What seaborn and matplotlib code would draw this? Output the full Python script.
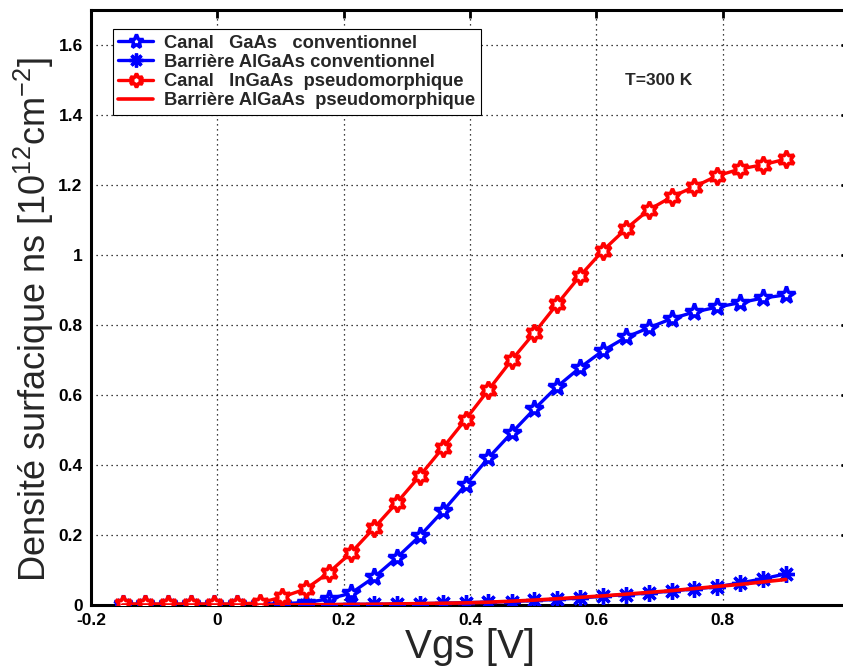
import matplotlib
matplotlib.use('Agg')
import matplotlib.pyplot as plt
import pandas as pd
import seaborn as sns

# ---------------- data ----------------
vgs = [-0.150, -0.114, -0.078, -0.041, -0.005, 0.031, 0.067, 0.103, 0.140, 0.176,
       0.212, 0.248, 0.284, 0.321, 0.357, 0.393, 0.429, 0.466, 0.502, 0.538,
       0.574, 0.610, 0.647, 0.683, 0.719, 0.755, 0.791, 0.828, 0.864, 0.900]

canal_gaas = [0.002, 0.002, 0.002, 0.002, 0.002, 0.002, 0.002, 0.004, 0.007, 0.017,
              0.034, 0.079, 0.135, 0.198, 0.268, 0.343, 0.420, 0.492, 0.560, 0.624,
              0.678, 0.726, 0.765, 0.792, 0.818, 0.837, 0.851, 0.864, 0.877, 0.886]

barriere_conv = [0.000, 0.000, 0.000, 0.000, 0.000, 0.000, 0.000, 0.000, 0.001, 0.001,
                 0.002, 0.002, 0.003, 0.004, 0.005, 0.007, 0.008, 0.010, 0.013, 0.016,
                 0.020, 0.025, 0.030, 0.034, 0.040, 0.046, 0.052, 0.063, 0.075, 0.089]

canal_ingaas = [0.003, 0.003, 0.003, 0.003, 0.003, 0.003, 0.006, 0.023, 0.046, 0.092,
                0.150, 0.220, 0.292, 0.370, 0.449, 0.530, 0.614, 0.700, 0.778, 0.860,
                0.940, 1.012, 1.075, 1.129, 1.166, 1.195, 1.226, 1.246, 1.258, 1.274]

barriere_pseudo = [0.000, 0.000, 0.000, 0.000, 0.000, 0.000, 0.000, 0.000, 0.001, 0.001,
                   0.0015, 0.002, 0.003, 0.004, 0.005, 0.006, 0.008, 0.011, 0.014, 0.018,
                   0.022, 0.026, 0.031, 0.036, 0.041, 0.047, 0.053, 0.059, 0.066, 0.073]

series_labels = ['Canal   GaAs   conventionnel',
                 'Barrière AlGaAs conventionnel',
                 'Canal   InGaAs  pseudomorphique',
                 'Barrière AlGaAs  pseudomorphique']

x_ticks = [-0.2, 0.0, 0.2, 0.4, 0.6, 0.8]
x_tick_labels = ['-0.2', '0', '0.2', '0.4', '0.6', '0.8']
y_ticks = [0.0, 0.2, 0.4, 0.6, 0.8, 1.0, 1.2, 1.4, 1.6]
y_tick_labels = ['0', '0.2', '0.4', '0.6', '0.8', '1', '1.2', '1.4', '1.6']

x_label = 'Vgs [V]'
y_label = 'Densité surfacique ns [10$^{12}$cm$^{-2}$]'
annotation = 'T=300 K'

# ---------------- style ----------------
sns.set_style('white')
plt.rcParams['font.family'] = ['Liberation Sans', 'DejaVu Sans']
plt.rcParams['mathtext.default'] = 'regular'

W, H = 843, 666
fig = plt.figure(figsize=(W / 100, H / 100), dpi=100)
ax = fig.add_axes([91 / W, 61 / H, 758 / W, 595 / H])

df = pd.DataFrame({'Vgs': vgs,
                   'canal_gaas': canal_gaas,
                   'barriere_conv': barriere_conv,
                   'canal_ingaas': canal_ingaas,
                   'barriere_pseudo': barriere_pseudo})

blue = '#0000ff'
red = '#ff0000'

sns.lineplot(data=df, x='Vgs', y='canal_gaas', ax=ax, color=blue, linewidth=2.4,
             marker='*', markersize=13, markerfacecolor='white',
             markeredgecolor=blue, markeredgewidth=2.5, label=series_labels[0],
             sort=False, estimator=None, zorder=3)
sns.lineplot(data=df, x='Vgs', y='barriere_conv', ax=ax, color=blue, linewidth=2.4,
             marker=(8, 2, 0), markersize=12, markeredgecolor=blue,
             markeredgewidth=2.4, label=series_labels[1],
             sort=False, estimator=None, zorder=3)
sns.lineplot(data=df, x='Vgs', y='canal_ingaas', ax=ax, color=red, linewidth=2.4,
             marker=(6, 1, 0), markersize=12.5, markerfacecolor='white',
             markeredgecolor=red, markeredgewidth=2.6, label=series_labels[2],
             sort=False, estimator=None, zorder=3)
sns.lineplot(data=df, x='Vgs', y='barriere_pseudo', ax=ax, color=red, linewidth=2.6,
             label=series_labels[3], sort=False, estimator=None, zorder=4)

ax.set_xlim(-0.2, 1.0)
ax.set_ylim(0, 1.7)
ax.set_xticks(x_ticks, labels=x_tick_labels, fontweight='bold', fontsize=12.5)
ax.set_yticks(y_ticks, labels=y_tick_labels, fontweight='bold', fontsize=12.5)
ax.tick_params(direction='in', length=6, width=2, top=True, right=True,
               colors='black', pad=6)

ax.grid(True, color='black', linestyle=(0, (1, 3)), linewidth=0.9)
ax.set_axisbelow(True)
for sp in ax.spines.values():
    sp.set_color('black')
    sp.set_linewidth(2.2)
    sp.set_visible(True)

ax.set_xlabel(x_label, fontsize=29, labelpad=0)
ax.set_ylabel(y_label, fontsize=26, labelpad=1)
ax.yaxis.set_label_coords(-0.046, 0.48)

ax.text(0.749, 0.882, annotation, transform=ax.transAxes, ha='center', va='center',
        fontsize=12.5, fontweight='bold')

handles, labels = ax.get_legend_handles_labels()
leg = ax.legend(handles, labels, loc='upper left', bbox_to_anchor=(0.029, 0.968),
                borderaxespad=0, frameon=True, fancybox=False, framealpha=1,
                edgecolor='black', prop={'weight': 'bold', 'size': 13.2},
                handlelength=1.9, handletextpad=0.6, labelspacing=0.12,
                borderpad=0.3)
leg.get_frame().set_linewidth(0.8)
for h in leg.legend_handles:
    h.set_markersize(10)

fig.savefig('out.png', dpi=100)
